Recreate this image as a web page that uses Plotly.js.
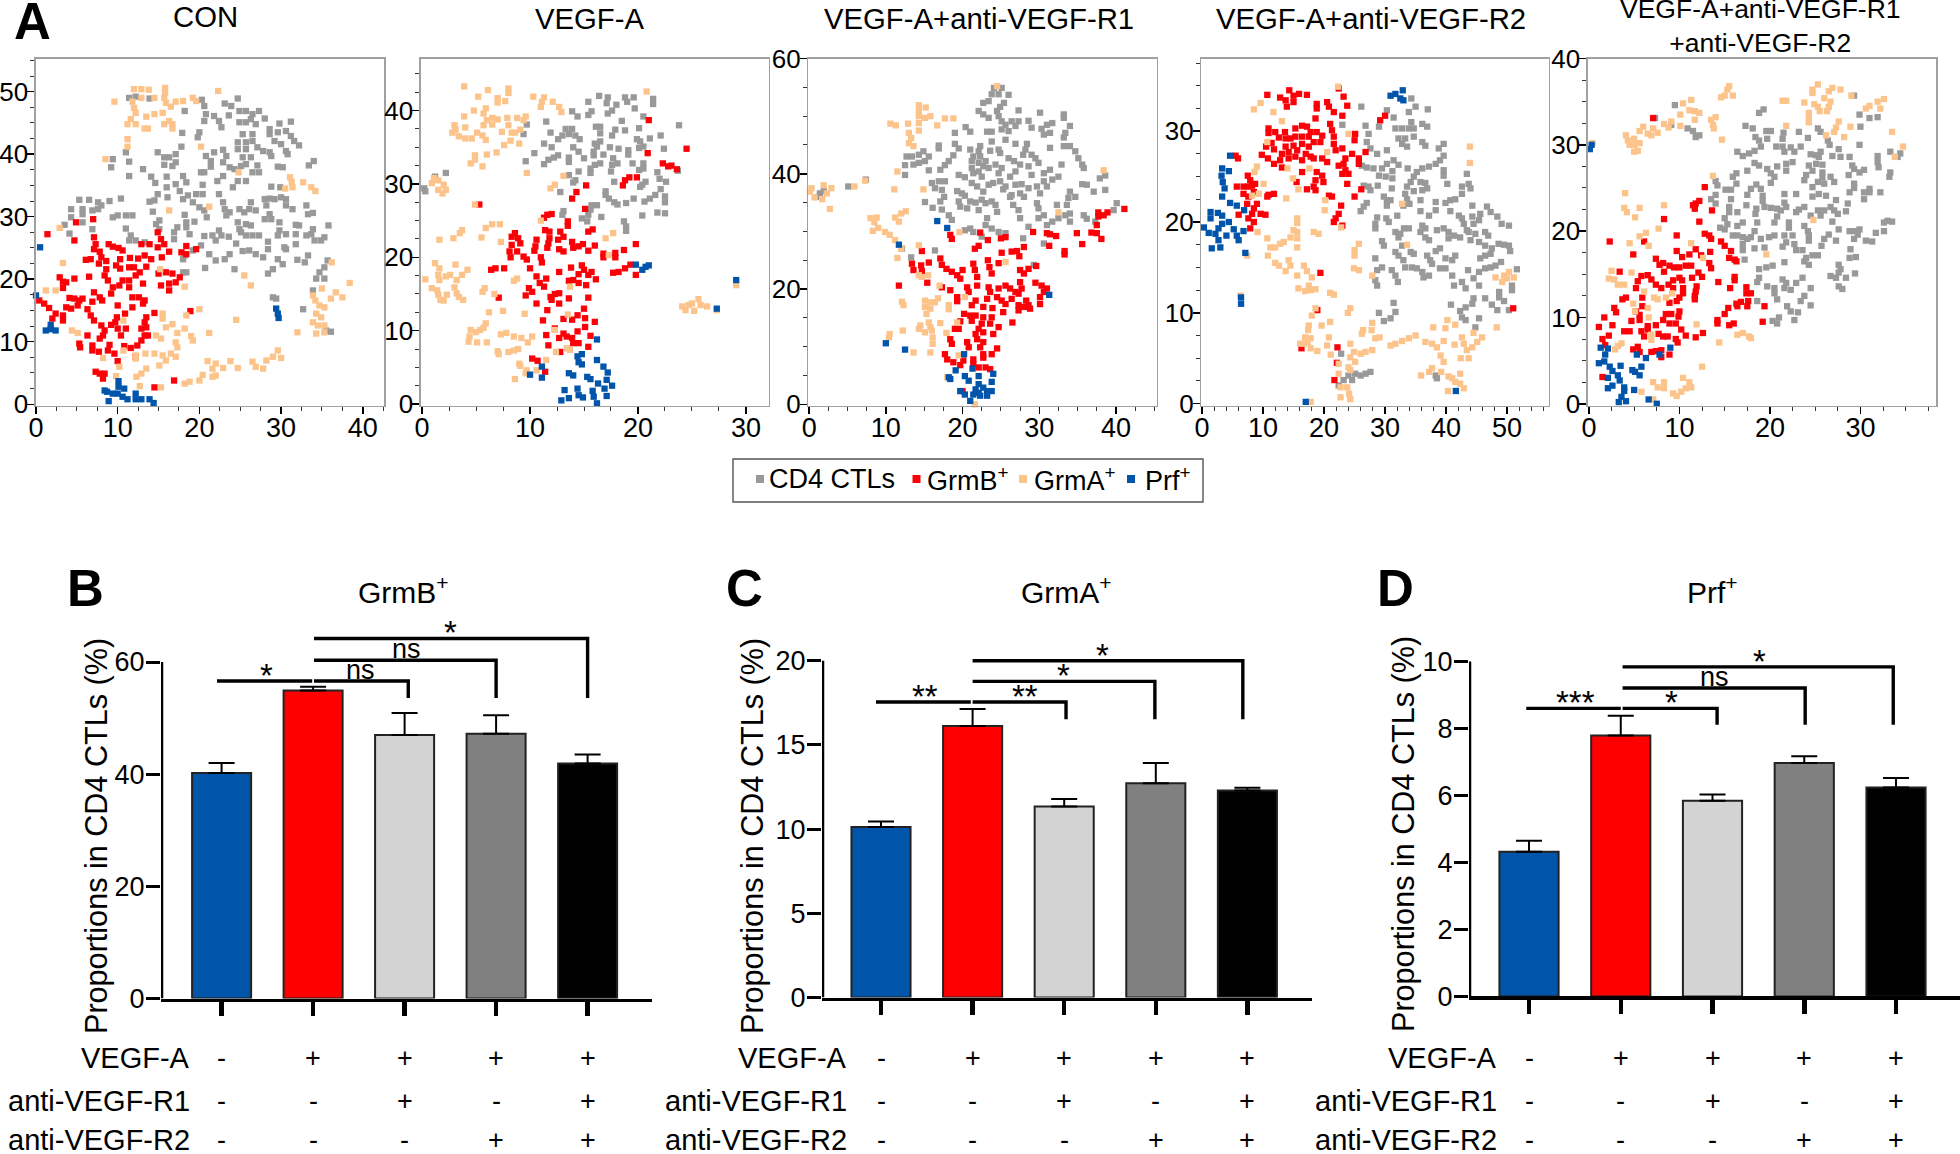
<!DOCTYPE html>
<html><head><meta charset="utf-8">
<script src="https://cdn.plot.ly/plotly-3.0.1.min.js"></script>
<style>html,body{margin:0;padding:0;background:#fff}#c{width:1960px;height:1154px}</style>
</head><body><div id="c"></div>
<script>
// ---------- t-SNE panels: flat x,y lists ----------
const conGrey=[11.4,49,12.2,49.2,13.9,48.9,20.3,48.7,20.6,47.7,18.2,46.9,24.7,48.9,23.1,48.1,23.9,47.7,24.9,46.9,25.7,46.9,26.5,46.4,27.3,46.9,20.8,46.4,20.6,45.3,21.8,46.1,22.4,45.3,22.7,44.3,23.6,46.2,24.9,45.1,25.7,45.1,26.3,45.6,26.9,44.8,28,45.7,29.8,44.9,31.2,45.2,28.6,44,28.6,43.2,29.6,43.5,30.6,43.7,31.2,42.9,31.6,42.1,32.2,41.4,29.2,42.1,30,41.6,30.6,40.5,30.8,40,20,43.5,19.8,42.7,17.9,43.4,25.3,43.2,26.5,43.2,26.5,42.1,24.7,41.9,25.7,41.9,24.7,40.8,25.7,40.8,27.1,41.1,27.8,40.5,28.6,40.3,28.8,39.7,17.8,41.2,17.1,40,16.3,39.5,15.7,39.5,14.9,40.3,11,40.3,9.4,39.2,9.2,37.9,11.4,38.8,13.1,37.6,11.4,36.5,14.1,36.4,14.6,35.4,16,36.4,16,34.7,16.7,38.1,17.1,38.7,15.7,38.3,20.8,39.7,21.4,38.9,21.8,40.3,22.9,40.7,23.3,39.7,22.9,38.7,21.4,38,20.6,37.1,20.2,37.1,23.7,37.9,24.3,37.6,25.3,39.5,26.3,39.5,25.7,38.4,25.1,38.1,27.1,38.2,27.3,37.1,26.5,37.1,25.7,35.7,24.7,35.7,24.1,34.7,22.9,36.5,22.2,35.7,20.4,35.1,29.6,38,30.2,37.9,33.4,38.2,34,38.9,28.8,34.8,29.9,34.7,18,36.5,18.4,35.5,17.1,35.2,17.6,34.1,16.1,33.1,14.9,33.6,14.5,32.6,13.9,32.4,14.3,30.8,18,32.8,18.6,33.4,19.6,33.6,20.4,33.6,19.2,32.3,20,31.5,20.6,31,22.4,33.6,22.9,32.3,23.1,31.2,23.7,30.7,23.3,30.2,18.2,30.3,17.3,28.3,18.4,29.1,19.4,29.2,20.9,29.9,15.1,29.4,14.7,28.8,15.1,28,11,28.1,11,30.2,11.8,30.2,10,30.2,9.4,29.9,10.4,32.9,9,32.5,5.3,32.7,6.5,32.7,7.6,32.3,8,31.8,7.6,31.2,6.9,31,5.7,31.2,5.7,30.4,4.3,31.2,4.3,29.9,3.5,28.7,5.7,29.1,4.1,27.3,6.9,28,11.6,27,12.2,26.2,11.4,26.2,13.3,25.9,16.9,27.5,16.9,26.4,18.4,28.3,18.8,27.2,20.6,26.9,21.6,27,22.4,27.8,22.7,27,22,26.2,23.6,26.8,20.2,25.4,19.2,24.6,18.2,23.8,18,23.2,21.2,24,22,23,23.1,23.2,23.7,24,24.5,25.7,25.3,24.5,26.1,24.6,26.9,24,27.8,23.5,28.4,26,28.4,24.8,30.4,25.1,29.6,23.2,30.6,24.8,31.8,25.6,32,23.1,32.9,22.7,33.3,23.8,30.2,22.4,29,21.6,28.4,20.9,24.3,21.6,20.7,21.8,18.4,21.1,18,21.1,24.7,29.1,24.9,28,25.7,28.8,26.3,28.6,25.1,27.5,25.7,27,26.5,27,27.3,27,24.9,31.2,25.5,30.7,26.3,32.3,26.1,31.2,26.9,31,28,32.8,28.6,32.9,29.2,32.8,28.2,31.8,28.6,30.4,28,29.6,28.8,29.6,29.8,29.1,30,33.1,30.6,32.8,30.6,31.8,31.4,31.2,33.1,31.8,33.3,30.4,33.9,30.6,31.8,28.7,32.2,28.6,29.8,27.8,29.6,27,30.6,27.2,31.8,27.2,33.1,27,33.9,28,33.7,27.2,34.1,26.2,34.9,26.2,35.3,26.7,35.8,28.6,35.7,23,35.3,21.9,34.7,21.1,34.3,20.1,35.3,20.1,33.9,18.2,29,17.1,29.4,16.9,32.7,15.2,36.1,11.6,35.5,11.8];
const conRed=[1.4,27.2,4.9,29.1,7,29.6,4.7,26.2,7.1,26.7,7.3,25.6,7.1,24.8,7.8,24.4,8,23.5,6.7,23.2,6.1,23.1,8.6,22.9,7.7,22.5,8.9,25.6,9.4,25.2,10.1,25,10.6,24.6,10.3,23.2,9.8,22.2,10.3,21.7,12,21.9,11.4,21.9,11.5,23.4,12.5,23.3,14.9,27.5,15.3,26.4,15.7,25.6,14.9,25.1,16.3,24.4,15.4,23.5,14.1,23.2,13.3,23.8,12.9,25.6,13.9,25.6,18.4,25.3,19.6,24.8,17.8,24.3,18.4,24,13.5,22,12.7,21.1,12.2,20.6,11.4,19.8,10.6,19.8,10.2,19,9.4,18.7,9.2,17.7,11.4,18.7,13.1,19.3,8.6,21.6,8.4,20.6,8.8,19.8,6.5,20.4,4.7,20.1,2.9,20.3,3.3,19.6,3.7,19.5,3.3,18.6,4.1,17,4.7,16.9,5.3,16.6,5.7,16.9,5.1,15.8,3.7,15.5,4.3,15.3,7.1,17.9,7.8,17.1,6.9,16.4,8.1,16.6,6.3,15.2,6.7,14.2,7.1,13.4,10,15.8,11.8,17.1,12.6,17.1,13.3,16.6,11.8,15.5,13.1,16.1,14.5,14.6,13.5,13.9,13.3,13.1,13.5,12.3,12.9,12.1,13.3,11,12.9,10.2,13.7,11,12.4,9.4,11.6,9,10.8,9.3,11,12.1,10.9,14.5,9.9,13.9,9.7,13.1,9.2,12.7,10,12.1,10.4,11,8,12.6,8.4,11.8,8.2,11,7.8,10.5,6.3,11,6.9,9.4,6.9,8.6,7.7,8.4,5.3,9.7,5.4,9.1,9,9.5,8.8,8.6,9.6,8.1,10,6.9,7.3,5.2,7.8,4.9,8.4,4.9,8.2,4.1,14.5,2.7,16.9,3.8,12.2,7.6,18.9,14.9,0.4,16.6,1,16.1,1.6,15.4,2.4,14.5,2,13.7,3.3,14.2,3.3,13.4,15,20.9,15.9,21.1,16.7,20.9,17.6,20.3,17.1,19.5,16.3,19.3,15.3,19,16.3,18.2];
const conTan=[12,50.4,12.9,50.4,13.8,50.3,15.8,50.6,15.8,49.8,15.7,49,15.9,48.2,16.5,47.6,17.1,48.4,18,48.5,19.2,49,19.6,48.5,22.3,50.1,9.6,48.4,12.9,49,14.5,49,11.8,48.4,12,47.4,12.2,46.6,13.5,46,14.5,46.4,15.5,46.6,11.6,45.6,11.2,44.8,12.2,44.8,13.3,44.1,13.7,44.1,15.7,44.8,16.3,45.3,16.7,44.8,16.7,44.1,11.2,42.4,11.2,41.2,8.5,39.2,20.2,41.2,24.8,37.1,31.1,36.3,31.3,35.6,30.5,34.5,31.4,34.7,32.7,35.5,33.7,34.7,34.2,34.1,16.3,31,21.2,31.6,3.3,22.6,2.9,28.2,1.2,18.2,2.4,18.2,36.2,22.7,25.5,20.6,26.3,19,18.2,18.8,15.2,21.6,38.4,19.4,35,18.5,33.9,17.4,34.2,16.6,34.7,15.8,35.3,15.5,36.1,16.9,36.7,17.9,37.5,17.1,34.3,14.5,34.9,13.9,33.9,13.1,34.5,12.6,34.3,11.3,35.3,12.6,35.3,11.5,32,11.5,24.5,13.5,18.4,14.2,20,15.2,15.5,14.5,15.5,13.7,21.2,11.4,16.7,12.8,15.9,12.3,18.2,12.1,17.3,11.4,19,10.9,19.2,10.2,14.7,11,15.3,10.5,17.1,9.9,17.3,9.1,16.5,8.1,17.1,7.6,15.9,7,15.5,7.8,14.5,8.1,13.4,8.1,12.2,7.8,12.2,7.3,10.7,13.4,4.4,11.8,5.1,11.4,10.7,8.6,8.2,7.4,10.2,6,9.8,4.5,13.5,5.7,12.9,4.9,12.3,4.4,15.1,6.2,12.7,2.9,15.3,2.7,18.2,3.3,18.8,3.6,20,3.8,20.4,4.7,21.6,4.4,22,4.6,21,6.9,22,6.5,21.6,5.7,22.9,5.8,23.8,6.9,24.7,5.8,26.5,6.8,26.9,6,27.8,5.7,28.2,7,29,7.6,29.6,8.6,30,7.4];
const conBlue=[0.5,25.1,0,17.4,1.8,12.7,1.2,11.8,1.8,12,2.4,11.8,29.4,15.3,29.6,14.5,29.7,13.8,8.4,2.2,8.7,2,8.9,0.5,10.1,3.7,10.1,2.8,10.8,2.5,10,1.7,10.6,1.2,11.2,0.8,12.2,1.7,12.2,0.8,12.9,0.8,13.9,0.8,14.4,0.2,9.4,1.7];

const vegfGrey=[15.4,41.2,16.4,42,17.2,41.8,17.1,41,18.8,41.8,19.6,41.8,19,41.2,18,40.8,17.6,40,21.4,41.6,21.4,40.9,19.7,40.3,13.9,39.9,14.4,39.2,15.4,39.4,15.7,39.9,17.2,39.6,18.5,38.6,20.5,39.2,11.5,38.5,9.7,38.1,9.4,36.8,16.1,37.8,16.5,37.8,16.5,36.9,17.9,37.4,17.6,36.6,18.8,37.3,20.1,37.6,13.3,37.5,13.9,37.5,11.9,37,13,36.6,12.6,36.1,13.6,36.8,14.2,36.6,14.6,36.1,22.1,36.6,19.9,36.1,20.2,35.8,21.1,36.2,11.3,35.5,12,35,14,35,14.5,34.4,15,33.5,16,35.5,16.5,35.8,16.2,35.1,15.9,34.4,15.9,33.9,16.8,34,17.4,35,18.2,34.8,19.1,34.6,19.1,34,20.1,34.9,20.5,35.1,22.4,34.8,10.4,34.2,12.6,33.9,12.2,33.6,11.7,33.3,11.3,32.7,9.6,33.1,13.6,33.6,13.6,33,17.7,33.5,17.6,32.6,18.1,32.8,16.5,32.8,16,32.6,15.6,32.1,15.6,31.5,14.5,31.7,14.2,30.5,14,30.2,13.6,31.2,19.5,32.8,20.5,32.8,20.5,32.1,20.1,31.9,17.5,31.7,17.8,30.3,23.8,38,21.8,31.6,22,30.7,22.6,30.3,20.7,30.3,20.4,29.9,20.2,29.6,22.1,29.3,17,29,17,28.5,17.3,28,17.8,27.5,18.1,27.2,18.9,27.4,19.6,28,20.6,27.6,21.1,28,21.6,28.5,22.5,28.3,22.5,27.5,21.8,26.1,22.5,26,20.4,25.7,23.7,31.8,12.8,28.9,0.2,29.4,0.3,29,1.2,31,2.2,31.5,13.1,26.3,13,25.8,15.7,27.1,16.2,27.1,15.6,26.5,15.4,25.8,14.8,25.3,15.3,24.9,16.6,25.5,18.7,24.9,18.9,24.2,18.9,23.6];
const vegfRed=[21,38.7,24.5,34.8,20.9,34.2,22.3,32.8,22.8,32.4,23.1,32.5,23.6,32,18.6,29.8,18.8,30.5,19.2,30.9,19.9,30.9,15.2,29.8,14.3,28.9,13.9,28,15.1,26.6,5.3,27.2,11.3,25.4,11.6,25.8,12,25.9,13.5,24.9,13.5,24.3,15.4,23.5,15.8,23.8,11.4,23.7,11.8,23.5,11.8,22.6,11.7,21.9,11.6,21.3,10.6,22.4,10.5,21.5,10.4,20.9,8.6,23.3,8.3,22.8,8.9,22.6,8.3,21.7,9.1,21.9,8.1,20.8,8.8,20.8,8.2,20,9.4,20.1,9.7,19.7,11,20,11.1,19.3,12.8,23.5,13.1,22.8,12.6,22.4,13.9,22.1,14,21.3,14.5,21.5,14.9,21.8,16,21.6,15.4,20.9,12.7,21.1,13.1,20.8,19.8,21.8,18.7,21,17.9,20.6,17.9,20,16.8,20.5,16.8,20,6.8,18.5,6.4,18.3,7.6,18.5,10,18.5,12.7,18,13.8,18.6,14.8,18.9,15,18.3,15.7,18,15.4,17.6,10.6,17.4,11.5,17.1,10.9,16.5,11.3,16,9.9,15.8,10.2,15.3,9.6,14.8,14.5,17.7,14,16.9,14.5,16.5,13.6,16.8,15.2,16.2,16.1,17,17.7,17.9,18.2,18,18.8,18.5,19.3,19,19.8,17.6,12.3,15,12.7,15.1,11.9,14.6,12.7,13.7,12,14.2,10.6,13.7,11.6,12.8,13.6,14.4,15.4,14.5,7.1,14.5,15,13,11.2,11.4,13.1,11.6,13.9,11.5,14.4,12.1,15.1,11.7,16,11.2,15.1,10.5,12.3,10.3,13.1,9.6,13.4,9.2,13.9,9,14.4,9.9,15.6,9.3,11.5,9.4,12.7,9,11.7,8,14,8.3,14.5,8.3,15.4,7.8,12.8,7.1,10.2,6.2,10.7,5.9,11.4,4.4];
const vegfTan=[3.9,43.3,6.1,42.8,5.2,41.9,8,43,8,42.4,7,41.7,7,41.1,7.7,41.3,5.9,40.3,5.7,39.6,4.8,40,3.9,39.2,10.3,41.9,11.3,41.8,11.1,41.2,11,40.5,12.1,41.2,12.7,40.5,12.9,39.8,4,37.7,3,38,3.1,37.4,2.8,37,3.4,36.5,4,36.2,4.6,36.2,5.1,37,5.6,36.6,5.9,36,5.7,38,6,38.7,6.5,39,7,38.8,6.5,38.1,7.9,39,8.8,39,9.6,39.2,9.4,38.7,8,38,7.4,37.1,8.3,37,8.6,37,9.1,37.4,8.2,35.9,7.6,35.3,9,35.5,6.9,34.3,6,34,4.9,33.9,4.9,33.3,4.5,32.8,5.6,32.4,9.7,31.5,13.1,31.1,12.3,29.9,11.9,29.4,1.1,30.8,1.5,30.5,0.9,30.1,2,29.9,2.2,29.2,1.9,28.7,1.5,29.2,4.9,27.2,11,25,6.5,24.5,7.2,24.5,5.9,24,3.7,23.7,3.5,23.3,2.9,22.6,1.6,22.4,5.5,22.7,7.3,22.1,17.7,23.3,17,22.6,17.3,20.3,1.2,19.2,1.6,18.5,1.5,17.6,1.6,16.9,0.3,17,2.2,17.4,2.6,17.6,3.1,19,4.2,18.3,3.7,17.6,3.2,16.9,3,15.9,0.9,15.8,1.4,15.5,1.5,14.9,1.7,14.2,2.3,14.9,2,14.1,3.2,15.1,3.4,14.6,3.8,14.2,8.8,17.1,8.5,16.8,5.8,15.8,5.6,15.3,6.7,15,6.2,12.5,7.5,12.7,9.5,12.3,5.9,11,5.7,10.4,5.4,10.1,4.5,10.1,5,9.8,4.4,9.2,4.3,8.5,5.1,8.4,6,8.4,7.3,9.5,7.8,9.7,8.5,9.2,9.2,9,10.2,9.2,9.8,8.4,7,7.2,7.1,6.8,8,7.1,8.5,7.3,8.9,7.5,9,5.5,9.1,5.2,9.7,4.6,9.6,4.2,8.6,3.4,10.6,4.6,11.5,6,12.3,10.1,12.4,7.1,13.4,7.6,13.7,7.4,13.7,16,13.5,12.2,25.6,14.3,24.1,13.3,24.7,13.5,25,13.7,25.2,12.7,25.8,13.5,26.4,13.3,24.4,12.8,29.1,16.2,27.3,12.8,20.8,42.6];
const vegfBlue=[16.2,8.8,19.8,19,20.4,18.3,20.7,18.7,21,18.9,29.1,16.9,27.3,13,14.8,6.8,14.4,6.5,14.5,5.7,14.8,5.4,16.2,6,16.8,5.1,17.2,4.3,17.1,3.3,17.6,2.5,16.9,2.1,16.3,2.8,15.3,3.7,15.6,3.4,13.6,4.2,14,3.9,13.2,1.9,14.4,2.1,14.5,1.2,13.6,0.8,12.9,0.5,15.8,1.8,15.9,1,16.2,0.1,17.1,1.1,11.1,5.1,11.1,3.6,10,4,14.9,0.9];

const r1Grey=[24.1,54.9,25.1,54.9,23.8,53.8,24.7,53.8,26,53.7,22.7,52.3,23.4,52.6,25.4,52.3,24.9,51.6,27.3,51,30.1,50.6,33.2,50.3,33.2,49.7,22.1,50.9,22.7,50.3,24.5,50.9,24.7,50,25.1,49.1,23.4,49.7,25.6,48.5,26.4,49.1,27.3,49.1,26.9,48.3,28.6,49.2,25.1,47.7,26,47.4,29,48,30.3,47.8,31,48.5,31.7,48.8,30.6,46.8,31.4,47.1,34,48.3,33.4,47.1,33.2,46.3,20.4,48.1,21,47.3,19,47.1,23.2,47.3,23.8,47.3,23.8,45.6,25.6,45.9,26.9,45.2,19,45.2,19.5,44.4,16.9,44.9,16.9,44.4,21,44.2,22.3,44.8,22.1,43.9,23.6,44,24.7,44.2,24.9,43.6,28.4,45.2,28.2,44.2,31.4,44.5,33.2,44.8,34,44.8,34.7,43.9,35.1,42.7,35.6,41.6,35.8,41,12.7,43,13.4,43,14.3,43.3,14.9,43.9,15.6,43,15.1,42.2,14.3,41.9,13.6,41.6,12.5,41.5,12.5,39.8,15.6,40.6,17.1,40.7,17.7,41.5,18.2,42.2,18.8,43.2,21.4,43,21.2,42.2,21.2,41,21.4,40.1,22.3,43,22.1,41.9,23,42.2,22.7,41.3,23.4,41,22.1,40.4,24.3,41.6,25.1,41,24.7,40.1,26,42.7,26.7,42.2,27.9,43.3,29,43.3,29.5,42.7,29.9,41.9,27.5,41.6,28.6,41.3,30.6,40.1,31.4,40.7,32.9,41.6,29,39.8,26.9,40.4,26.2,39.5,19.5,39.8,20.3,39.4,22.5,39.5,21.2,38.4,21.9,37.8,23.4,38.1,22.7,36.9,24,38.4,24.9,38.7,25.6,37.8,25.3,37.3,26.9,38.1,27.7,38.2,26.4,36.3,27.5,36.6,28,36,28.6,37.5,29.7,37.8,30.6,38.7,31.7,39,32.5,39.5,31,37.8,30.1,36.6,34,36.9,34.7,36,35.6,38.2,36.2,38.1,37.1,36.9,38.6,37.2,37.9,39.2,38.6,39.7,40.1,34.9,39.7,33.7,33.8,35.8,33.6,34.6,16,38.4,16.9,38.7,17.7,38.7,16.4,37.5,17.3,37.2,17.6,36,17.1,35.2,15.1,35.1,16.1,34.1,17.3,33.8,19.3,37,19.9,36.6,20.3,36.2,21,35.2,21.7,35,22.5,35.5,23,34.9,23.8,35.2,24.3,34.6,24.5,33.4,19.5,35.2,19.7,34.3,20.6,34,22.1,33.7,18.2,32.8,18.6,32,23.2,32.3,23,31.1,23.8,30.5,26.2,36,26.6,34.6,27.3,33.7,27.5,32.3,29.7,34.9,29.9,34,30.6,32.8,29.9,32.3,32.3,34.6,32.5,32.3,31.7,31.7,31,31.1,34,31.7,33.4,32.8,34,33.1,35.8,32.8,36.2,32.2,37.3,31.7,20.3,30.2,21,30.5,21.4,29.9,24.7,29.9,25.6,29.7,28.6,30.8,27.9,28.8,30.6,27.9,16.4,26.7,13.3,25.5,12.1,27,29.3,24.2,1.4,36.6,1.9,37,1.2,36,5.1,37.8,7.4,39,22.5,29.1];
const r1Red=[18.4,29.4,18.6,28.7,22.3,29.8,22.1,27.5,21.6,27,23.3,28.5,25,28.8,25.6,29,29.2,29.9,31,29.7,31.4,29.5,32.2,29.2,31.3,27.5,33.3,26.6,33.3,26,34.9,29.7,35.6,27.8,36.8,29.8,37.5,29.7,37.5,31.1,38.1,28.7,37.7,33.3,37.7,32.6,38.4,32.8,38.9,33.3,41.1,33.9,14.7,26.6,14.6,24.1,15.6,24.6,13.4,24.4,13.6,23.3,14.7,23.1,15.4,21.1,11.7,20.6,17.1,25.3,17.3,24.2,17.9,23.5,18.6,23,19.3,22.4,20,23.3,19.7,21.8,21.4,24.4,21.6,23.3,21.9,22.1,23.3,25,23.5,23.8,23.8,22.7,24.7,24.5,25.1,26.3,26.4,26.5,27.1,26.6,27.4,25.7,28,27.3,20.6,20.3,21.9,20.6,20.8,19.5,18.4,19.8,17.3,20.3,19.3,18.6,19.3,17.9,23.4,20.3,23.6,19.5,23.2,18.3,24.7,20.1,25.6,20.6,26.2,20.1,26.9,19.5,27.7,20.1,27.5,21.2,28,22.7,28.6,23.5,29.6,24,27.5,23.3,29.5,21.1,30.3,20.6,31,20.1,30.6,19.5,30.1,18.6,30.1,17.4,24.5,18.6,25.1,18,25.6,17.4,26.4,18.3,27.3,19.2,27.3,17.2,28,16.9,28.6,17.2,28.8,16.6,28.3,18,27.3,16.3,25.3,16,26.5,14.2,21.7,18,21.2,17.2,22.7,16.9,23.9,16.7,20.2,15.7,21,15.4,21.7,15.4,22.7,15.1,23.8,15.1,21.2,14.5,22.5,14,23.6,14,24.7,13.4,19.7,14.4,19,13.1,19.5,13.1,22.1,13.1,21.7,12.2,22.7,12.5,24,12.2,20.6,10.8,21.9,11.3,22.7,10.8,20.8,9.9,22.3,9.9,18.4,11.3,18.6,10.5,24.5,9.7,22.7,8.7,23.8,8.7,22.7,8.1,17.7,8.7,18,7.8,18.8,7.3,19.7,6.8,20.1,7.6,21.4,7.8,21.4,7,22.1,6.4,23,6.4,23.6,6.1,20,2.3];
const r1Tan=[24.5,55.2,14.3,51.9,14.3,50.9,15.2,51.5,14.3,50,15.1,49.7,14.3,48.8,15.8,50,17.7,49.6,18.8,49.6,16.7,48.4,10.6,48.7,11.3,48.4,12.9,48.7,14.3,47.5,13,47.1,13.3,46.2,13,45.3,13.6,44.8,11.5,40.4,11.1,37.3,14.9,37.3,38.4,40.6,5.9,37.8,7.3,38.8,0.3,37.5,0.1,36.9,1.9,38,2.9,37.5,2.3,36.6,0.7,35.9,1.7,35.6,2.7,33.9,8,32.3,8.8,32.4,8.5,31.6,9,30.6,8.3,30.1,11.2,32.4,12,33.1,12.6,33.5,11.7,31.7,9.9,29.9,10.5,29.4,11.2,28.5,12,27,11.5,25.4,14.3,27.6,32.5,33.3,19.6,29.9,25.6,24.7,14.3,22.4,14.7,22.1,15.5,22.4,17,20.6,20.3,18.6,12.1,17.8,12.3,17.2,15.1,18,15.8,17.7,16.8,18.4,16.4,17.7,15.1,16.9,15.8,16.6,15.3,15.7,18.2,17.2,18.2,16.5,17.1,14.1,19.3,14.2,15.6,14.2,15.8,13.4,14.5,13.7,14.3,13.1,15.1,12.5,16,12.8,16.1,11.6,16.1,10.5,15.8,9,12.2,12.8,10.5,12.2,10.4,11.6,13.6,9,17.9,12.4,19.5,8.5,18,4.7,21.6,0];
const r1Blue=[16.7,31.8,18,30.6,11.7,27.7,31.3,19,10,10.6,12.5,9.5,20.2,8.7,19.1,5.9,21.3,6.2,20.3,4.9,20.8,4.1,22.1,4.9,24,5.3,23.8,3.9,18.4,4.4,18.2,4.7,22.1,3.5,22.7,2.9,21.7,2.6,22.3,1.5,23.2,1.5,23.8,2.3,19.7,2.3,20.3,1.7,21,0.6,23.2,2.3,22.1,2,21.4,1.7];

const r2Grey=[34.3,33.6,35,32.7,37,32.4,33.9,32.1,26.1,32.7,30.3,32.3,31.4,31.5,34.3,31,36.1,30.8,36.9,30.5,26.8,30.6,29,30.5,31.7,30.3,32.8,30.3,33.9,30.3,34.7,30.3,27.3,29.7,27,28.8,23,30.7,32.2,29.2,33.3,29.2,34.7,29.4,32.8,28.6,36.1,28.8,36.6,28.4,39.6,28.6,38.8,28.1,33.6,28.3,30.3,27.9,28.7,27.5,27.6,28.1,39.6,27.3,39,26.8,38.3,26.4,26.2,26.2,27,26,28.1,25.9,31.4,26.8,32.2,26.3,30.3,26.4,29.5,25.9,29,25.1,30.1,25,31.2,25.6,31.2,24.8,33.7,25.9,37.2,26.1,36.1,25.9,35.2,25.5,34.7,25,34.2,24.4,33.6,23.9,39.6,25.7,39.6,25.1,40.2,24.2,43.4,25.3,43.7,24.2,44,23.7,35.8,24.4,36.6,24.3,36.9,23.7,36.1,23.5,34.7,23.4,33.3,23.1,33.6,22.5,42.6,23.9,42.6,23.1,41.5,22.5,40.7,22.4,39.9,22.1,38.3,22.2,35.8,22.4,31.1,23.7,28.8,24,27.3,23.9,26.5,24,27.6,23.5,29.8,22.8,30.3,22.4,30.9,22.4,30.3,21.8,27,22.1,26.5,21.7,26,21.2,33,21.8,34,22,35.8,21.2,38.3,21.3,37.2,20.7,40.7,21.2,42.1,20.7,44.3,21.8,46.7,21.7,47.3,21.1,48.4,20.6,45.6,20.9,45.4,20.2,44.3,20.6,44.5,19.8,42.6,20.4,42.9,19.8,43.4,19.1,49.1,19.8,50.3,19.6,28.7,20.5,28.4,19.8,28.4,19.3,30.2,20.4,30.6,20,32,20.7,31.7,18.9,32.5,18.7,33.1,19.3,33.9,19.3,32.2,18.3,36.1,19.6,36.6,19.3,35.8,18.9,36.6,18.3,37.2,18,38.5,19.1,39.6,19.3,40.4,18.9,41.3,18.5,40.4,18.2,42.3,18.3,43.7,18.9,44.8,18.7,46.4,18.9,46.9,18.5,44,18,45.4,17.8,46.4,17.4,47.5,17.1,47.3,16.5,48.6,17.6,49.5,17.5,50.3,17.4,50.5,16.8,45.6,16,46.4,16.3,29.5,17.9,29.8,17.4,32.8,17.4,34.2,16.7,34.7,16.5,31.7,16.7,32.2,16.3,33,15.8,33.3,15,34.4,15,35.2,14.9,36.1,14.5,36.3,13.9,37.2,14.1,36.9,16.3,37.4,15.8,37.7,15.4,38.3,16.8,39,17.1,39.9,16,39,14.9,39.9,14.9,41,15.8,41.5,16.3,28.4,16,29.5,15,28.7,14.7,28.4,13.6,28.7,13,31.1,14.7,31.7,14.1,32.1,13.4,41,14.1,41.3,13,42.6,13.4,43.2,12.7,43.6,14.7,44.5,13.8,45.4,14.5,46.4,14.9,47.3,15,48.1,15.2,49,15.6,51.6,14.8,50.8,13,50.8,12.5,45.4,13,48.7,12.3,48.7,11.7,49.5,11.3,47.5,10.9,46.4,11.6,44.5,11.6,44.3,11,48.4,10.3,50.3,10.3,40.8,10.9,43.2,10.6,42.3,10.2,42.6,9.5,45.4,9.4,43.2,9.2,31.4,11.1,31.7,10.1,29,10,30.9,9.4,29.8,9.1,44.8,8.4,38.5,2.8,38.3,3.1,22.8,5.5,24,3.1,25.1,3.3,26,3.1,26.8,3.3,27.6,3.5,23.2,2.6,22.4,2,24.6,2.6];
const r2Red=[10.7,34,14.3,34.5,12.8,33.7,13.7,33.4,15,33.9,15.9,34.1,17.2,34,13.9,32.7,15,33.2,18.8,33,18.8,32.5,18.6,31.4,20.5,33.2,20.8,32.7,21.6,32.1,23,31.7,23.2,33.8,23.8,32.8,22.4,34.7,29.2,31.2,30,31.7,5.5,27.3,5.9,27,10.9,30.3,10.9,29.8,12,29.9,13.6,29.9,12.6,29.3,11.4,28.7,10.5,28.3,11.8,28,9.8,27.4,10.8,27,11.8,26.4,13.1,26,15.3,30.3,16.4,30.6,17.2,30.5,17.8,29.9,18.8,29.9,19.7,29.5,15.3,29.4,16.4,29.4,17.5,29.4,14.5,29.2,13.7,29.2,18.3,28.8,19.4,28.8,15,28.4,16.4,28.6,17.5,28.3,13.7,28.3,13.1,27.5,14.2,27.7,15.6,27.9,17,27.5,17.8,27.2,14.2,27,15.3,27.2,16.4,26.8,12.8,26.8,18.3,27,21,30.8,21.3,30.1,21.6,29.4,21.6,28.6,21.9,27.9,25.1,29.7,25,29,23,28.1,24.6,27.5,23.5,27,23.2,26.4,22.4,26.2,19.7,27,20.5,26.6,25.7,27,26.8,27.7,25.7,26.4,23.5,25.7,23,25.3,24,25.3,23.8,24.2,16.4,25.5,18.8,25.5,19.7,25.1,18.6,24.6,19.9,24.4,18.3,23.9,17.2,23.6,18.6,23.5,15.5,24.4,20.8,22.9,21.3,22.8,25,22.8,26.1,23.6,22.8,21.8,22.4,20.9,21.9,20.4,21.6,20,23,19.6,19.4,14.4,18.9,10.3,22.2,6.2,22.1,4.5,21.7,2.6,16.3,6.1,51,10.5,7.5,25.1,7.9,24.6,7.6,23.9,5.7,23.9,6.8,23.9,8.2,24,8.7,24.2,6.8,23.1,7.6,22.8,8.5,23.3,7.4,22,9,22,8.5,21.5,9.6,20.9,10.4,20.8,6,20.8,8.2,20.9,7.6,20.4,8.5,20,7.9,19.3,10.9,23,11.8,23.1,10.7,22.8];
const r2Tan=[22.3,34.9,9.6,33.1,8.5,32.4,11.7,32.1,13.1,31.1,10.7,28.8,24,29.7,20.5,27.7,14,25.9,9,26.1,8.6,25.5,10.1,24.2,17.6,25.9,14.9,24.8,15.8,23.6,9.3,23.1,8.2,22.9,13.8,22.6,20.2,22.4,20.1,21.3,15.6,20.4,15.6,19.9,22.8,19.4,9.1,18.9,10.7,18.2,11.2,17.2,12,17.2,12.8,17.6,13.4,17.8,15,19.1,15.6,18.9,14.5,18.3,15.6,18.2,15.6,17.2,18.3,18.9,19.1,18.7,7.4,16.3,10.8,16.3,12,15.5,12.6,15.2,14.2,15.8,14.5,15.2,13.7,14.6,16.7,15.2,17.2,14.6,15.6,14.1,18,13.9,15.8,12.7,17.5,13,17.8,12.5,16.9,12.4,18.6,12.6,21,12.2,21.6,12,6.3,11.9,25.7,17.6,25,16.9,25,16.3,24.9,14.9,25.7,14.7,27.9,14.1,33.6,17.5,32.8,22,43.9,28.3,43.9,26.5,18.6,10.5,18,9.7,24.3,10.5,23.9,10,21,9,19.6,8.6,17.5,8.6,17.4,8.1,16.9,7.3,17.8,7.2,16.7,6.6,17.8,6.1,18.9,5.8,20.8,7.3,20.5,6.4,21.1,5.4,24.3,6.6,26.2,7.7,26.4,8.1,27.9,8.9,27.8,8.1,28.4,7.2,29.1,7.3,27.9,5.9,26.8,5.7,26,5.5,24.9,5.7,24.3,5.1,25.1,4.6,22.4,3.3,22.4,4.4,24,4,24.3,3.7,22.7,1.8,22.7,0.7,23.8,1.8,24.1,1.1,24.3,0.5,30.9,6.4,31.7,6.6,32.8,6.9,33.9,7.2,35,7.5,36.6,6.8,37.7,6.6,38.5,6.2,39.6,6.9,41.4,6.5,42.6,7.3,42.9,6.6,43.4,5.9,43.7,5,42.4,5,44.5,7.8,45.9,7.3,45.1,6.8,44.3,6.2,48.3,8.4,41.5,8.7,40.2,9.2,39.9,8.3,37.9,8.4,39.1,5.3,39.6,4.6,39.2,3.5,37.7,3.9,37.2,3.5,35.9,3.1,40.4,3,41,2.8,41.5,2.4,42.3,3.3,42.3,2.2,42.9,1.7,40.3,1.4,49.5,14.1,50.3,14.5,51.1,13.9,48.1,13.9,50,13.8,49.2,13.4,17.8,0.2,17.3,6.8,16.1,6.6];
const r2Blue=[4.6,27.3,3.3,25.9,4.4,25.6,3.2,25.1,3.4,24.4,3.7,23.7,3.3,22.8,4.6,22.1,5.7,21.8,6.9,21.3,1.4,21.1,2.6,21,3.3,20.7,1.4,20.4,4.4,20,3.3,19.8,2.7,19.3,0.3,19.4,1.1,18.8,2.2,18.7,5.2,19.2,6.8,19,5.7,18.5,6,18,4,18.5,2.7,18,1.6,17.1,3,17.2,7.1,16.6,6.4,11.7,6.4,11,17,0.2,41.6,1.4,30.9,33.9,31.7,34.1,32.9,34.5,32.5,33.6,33,33.4];

const bothGrey=[9.5,34.6,7.3,33.1,9.1,32.3,10.9,31.9,11.5,31.6,11.8,30.9,12.2,31.1,18.8,33.7,19.3,34.1,29.3,35.7,29.9,33.5,31,33.1,31.9,33.2,30,32.1,17.3,32.2,18.1,31.9,19.6,31.6,20.1,31.6,21.5,31.4,23.2,31.5,25.3,31.9,25.6,31.5,18.4,30.9,18.8,30.5,19.7,30.7,21.4,30.7,24.2,30.8,26.4,30.5,26.6,30,29.9,30,27.6,29.5,19,29.8,20.7,29.8,21.4,29.8,22.3,29.7,23.4,29.8,21.6,29.2,22.7,29.2,16.4,29.2,17,28.7,17.7,29,18.3,29.3,24.5,28.9,25.1,28.8,25.6,29.2,25.4,28.6,26.9,28.7,27.8,28.6,28.8,28.6,31.9,28.7,31.9,28,32,27.4,33.3,29.2,34.4,29,34.1,28.6,18.3,27.9,18.8,27.6,19.7,27.2,20.8,27.5,21.8,27.8,22.5,28,24.3,27.6,25.1,27.8,24.7,27,25.8,27.7,29.1,27.6,29.3,27.2,29.9,26.8,30.4,27.1,28.7,26.5,20.1,26.7,20.5,26.3,21.8,27,25.8,26.8,26.7,26.3,27.1,25.7,24,26.5,23.8,25.9,25.8,26.2,25.3,25.7,26,25.5,33.3,26.8,33.2,26.3,17.5,27,16.3,26.7,15.9,26.3,14,25.8,14.2,25.3,16.3,25.5,15.7,24.8,15.1,24.8,20.1,25.6,18.5,25.4,17.9,24.9,17.5,24.2,19,24.9,19.2,24.1,19.2,23.5,24.7,25.1,29.3,25.5,29.3,25,28.8,24.5,31,24.9,30.4,24.5,31,24.5,30.4,23.7,32.2,24.5,21.6,24.3,22.9,24.3,24.7,24,25.4,24.3,26.2,24.1,14,24.2,13.5,23.7,14,23.2,15.7,23.7,28.6,23.2,27.3,23.6,15.5,22.8,15.5,22.2,16.4,22.2,17.4,23,18.5,22.6,18.4,22,19.4,22.8,20.1,22.7,20.8,22.6,21.6,23.3,21.8,22.8,21.2,22.4,20.8,21.7,20.5,21,23.8,22.8,23.2,22.5,22.9,22.2,24.5,21.8,25.3,22.4,25.6,21.8,26,22.4,26.7,22.8,27.1,22.4,27.5,22,28.4,22.3,26.9,21.1,15,21.5,14.5,20.4,15,20.2,15.3,20.8,17,21,18.6,21,16.4,20.6,22.1,21,22.1,20.4,18.3,20,23.8,20.6,24.2,20,24.3,19.5,24.3,18.9,15.9,19.5,16.4,19.5,17,19.3,17.5,19.1,17.9,19.3,19,19.1,19.9,19.3,20.5,19.5,21.6,19.5,22.5,19.5,21.8,18.7,22.7,18.5,21.4,18.2,25.7,18.3,26,19.1,26.5,19.6,27.3,18.9,27.6,20.2,28.8,20,29.3,20,29.9,20.2,29.7,19.6,29.3,19.1,30.6,18.9,31.3,18.8,31.7,19.8,32.6,20,32.6,21,33,21.2,33.5,21.1,17,18.5,17,17.8,18.3,18,19.4,18.1,22.9,17.8,23.6,17.8,17.2,16.7,21.6,16.4,24,16.9,24.7,17.2,25.3,17.2,24.3,16.1,23.8,16.5,28.9,17.9,28.8,16.9,29.5,17,27.6,16.1,27.8,15.6,27.6,15.2,20.3,16,19.6,15.8,18.8,15.6,18.8,14.6,18.6,14.1,19.7,13.6,20.5,13.4,20.5,12.8,21.4,14.4,21.8,14,21.6,13.4,22.3,13.2,22.9,14,23.6,14.6,24.5,13.4,26.7,14.8,27.3,14.6,28.4,14.6,29.4,15.1,27.6,13.6,28,13.3,23.8,12.5,23.4,11.9,24.5,11.4,18.6,11.9,20.8,12.1,21.9,11.3,22.3,10.7,23.1,10.6,22.7,9.7,21,10,20.3,9.6,20.8,9.3];
const bothRed=[7.1,33.1,12.8,25.1,11.5,23,11.8,23.2,12.2,23.5,11.7,22.6,13.6,22.4,8.3,21.4,12.2,21.1,9.7,19.5,12.8,19.7,13.3,19.5,13.5,19.1,2.3,18.8,6.1,18.8,14.6,18.8,15,18.3,15.7,17.7,15.5,16.9,16.1,16.7,16.3,16.5,4.9,17.3,9.7,17.7,11.8,17.9,13.4,17.6,10.3,17,11.1,17.3,12.4,17.2,7.4,16.8,7.8,16.1,8.2,16.3,8.9,16,9.4,15.8,10,15.8,10.7,16,11.3,16,13.3,16.3,13.5,15.7,3.4,15.3,8.3,15.3,5.8,14.8,6.5,14.9,5.4,14.2,5.2,13.4,6.9,14.4,7.4,13.8,8,13.4,8.8,13.8,9.3,14.3,10,14.6,10.3,14.3,11.4,14.6,12.1,15.2,12.5,14.7,9.3,13.4,10.4,13.4,11.9,13.6,11.8,13,11.7,12.5,11.7,12.1,10.4,12.8,10,12.3,9.7,11.9,8.9,11.7,14.3,14.1,16.1,14.7,16.1,14.3,15.6,13.4,17.4,13.5,17.4,12.8,17.9,12.8,5.9,12.3,5.9,11.3,4.1,12.3,3.7,12.1,2.8,11.1,3,10.6,5.2,10.7,1.7,10,5.6,10.3,5.6,9.7,4.7,9.6,1.1,8.9,2.6,9.1,8.2,9.7,8.5,10.4,9.1,10.4,10,10.7,9.9,10.1,8.9,9.3,9.6,9.3,10.2,8.6,6.5,9,7.4,9.1,6.5,8.6,3.9,8.4,4.5,8.4,5.8,8.4,6.1,7.8,7.7,8.1,8.2,7.8,8.7,7.8,9.6,7.5,9.8,7.1,10.7,7.9,11.8,7.7,12.6,8.2,2.2,7.9,1.5,7.5,1.8,6.8,4.9,6.3,5.4,6.6,5.6,6,6.9,6,7.4,6.1,8,6.2,8,5.4,8.9,5.7,14.2,9.7,14.2,9.3,15.5,9.1,16,9.3,15,10.4,15.4,11.1,16.3,11.6,16.8,11.8,17.5,11.3,16.4,11.3,17.6,11.9,19.4,11.3,19.2,9.5,1.5,3.1];
const bothTan=[15.5,36.8,15.3,36.4,15,35.7,15.9,35.7,14.6,35.5,25.3,37,24.7,36.4,24.7,36,26.9,36.6,26.5,36.2,27.8,36.4,29,35.7,21.8,35.1,21.4,35.1,23.8,34.9,24.9,34.7,26,35.4,26.7,35,26.5,34.4,25.3,34.4,25.5,33.9,24.3,33.7,24.3,33.1,24.3,32.6,26.3,33.9,30.6,34.2,31,34.5,31.9,35,32.6,35.3,32.2,34.2,11.3,35.2,10.4,34.8,11.1,34,11.7,33.9,12.2,33.7,11.7,32.9,10.1,33.5,10.1,32.2,9.1,32.7,8.3,32.4,8.8,32,6,32.1,5.6,31.6,7.1,31.9,6.5,31.3,6.9,31.1,7.6,31.4,4.1,31.1,4.3,30.5,4.5,30,5,30.7,5.6,30.2,5,30,5,29.2,5.4,29.3,13.5,32.9,14,33.2,13.7,32.3,13.8,31.9,14.7,30.6,21.8,32.2,27.6,32.7,27.3,32,27.1,31.5,28.9,32.1,26.2,31.1,28.2,30.9,33.5,31.5,34.7,29.8,33.8,28.6,0.4,30.2,13.7,26.4,4,24.4,3.9,22.7,4.2,22.2,5.6,22.7,5.1,21.6,8.3,23,7.7,20.3,6.3,19.8,5.6,19.4,4.5,18.6,6.6,18.3,11.3,18.6,12.6,16.9,19.6,17.3,2.5,15.4,2.2,14.5,2.8,14.4,3.2,13.8,3.9,13.8,4.7,15.2,6.1,13,7.2,12.3,7.6,12.1,8.5,12.3,9.2,12.8,4.9,11.6,6.5,11.1,5.1,10.7,6.6,10,24.8,21.3,11.9,9.2,6.9,8,6.9,7.4,16.4,8,17,8.2,17.7,7.8,17.9,7.6,14.4,7.1,3.6,7,3.2,6.7,2.9,6.3,12.5,4.3,10.4,3,11.1,2.5,11.3,1.9,10.7,1.8,10.2,1.4,9.7,0.9,9.3,1.2,7.1,2.5,7.6,1.9,8.3,2.5,8.3,1.8,5.8,1.4,7.1,0.5];
const bothBlue=[1.3,6.5,2.1,6.4,1.8,5.7,1.1,4.7,1.7,4.9,2.3,4.3,2.6,3.8,3.5,4.4,3.2,3.3,3.4,2.7,2.1,3,2.1,1.8,2.6,2.1,3.9,1.9,3.9,1.5,5,1.6,3.6,0.8,3.3,0.2,4.1,0.3,6.6,0.5,7.5,0,4.8,3.9,5.1,3.7,5.6,3.3,5.8,4.3,6.3,5.3,5.3,5.7,7.8,5.7,9,6.5,0.3,30,0.1,29.5];

// ---------- bar panels ----------
const groups=[0,1,2,3,4];
const vegfA=['-','+','+','+','+'];
const antiR1=['-','-','+','-','+'];
const antiR2=['-','-','-','+','+'];
const grmBMean=[40.2,54.9,47,47.2,41.9];
const grmBErr=[1.8,0.7,3.9,3.3,1.6];
const grmAMean=[10.12,16.13,11.34,12.73,12.3];
const grmAErr=[0.34,1.01,0.45,1.2,0.16];
const prfMean=[4.32,7.79,5.84,6.97,6.24];
const prfErr=[0.33,0.59,0.19,0.2,0.28];
const barColors=['#0055ab','#ff0000','#d3d3d3','#808080','#000000'];

const W=1960,H=1154;
const FONT='"Liberation Sans", Arial, sans-serif';
const px=x=>x/W, py=y=>1-y/H;
const xsOf=a=>a.filter((_,i)=>i%2===0), ysOf=a=>a.filter((_,i)=>i%2===1);
const colors={grey:'#999999',red:'#fb0007',tan:'#fcc48b',blue:'#0055ab'};

const panels=[
 {t:'CON',tx:205,ty:17,f:[36,384],r:[0,42.6],yr:[-0.2,55.3],xm:2.5,ym:2.5,yd:10,d:[conGrey,conRed,conTan,conBlue]},
 {t:'VEGF-A',tx:590,ty:19,f:[421,768.6],r:[-0.1,32.1],yr:[-0.2,47.1],xm:2.5,ym:2.5,yd:10,d:[vegfGrey,vegfRed,vegfTan,vegfBlue]},
 {t:'VEGF-A+anti-VEGF-R1',tx:979,ty:19,f:[808.4,1156.6],r:[-0.1,45.3],yr:[-0.2,60],xm:2.5,ym:5,yd:20,d:[r1Grey,r1Red,r1Tan,r1Blue]},
 {t:'VEGF-A+anti-VEGF-R2',tx:1371,ty:19,f:[1201.4,1548.6],r:[-0.1,56.8],yr:[-0.2,38],xm:2,ym:2.5,yd:10,d:[r2Grey,r2Red,r2Tan,r2Blue]},
 {t:'VEGF-A+anti-VEGF-R1<br>+anti-VEGF-R2',tx:1760,ty:26,f:[1588,1936],r:[-0.1,38.35],yr:[-0.2,40],xm:2.5,ym:2.5,yd:10,fs:26.5,d:[bothGrey,bothRed,bothTan,bothBlue]}
];
const traces=[],annos=[],shapes=[],layout={};
const names=['CD4 CTLs','GrmB+','GrmA+','Prf+'],cols=[colors.grey,colors.red,colors.tan,colors.blue];
const txt=(text,x,y,size,extra)=>annos.push(Object.assign({text,x:px(x),y:py(y),xref:'paper',yref:'paper',showarrow:false,xanchor:'center',yanchor:'middle',font:{family:FONT,size,color:'#000'}},extra||{}));

panels.forEach((p,i)=>{
  const n=i+1,k=n===1?'':n;
  p.d.forEach((a,j)=>traces.push({type:'scatter',mode:'markers',name:names[j],showlegend:false,hoverinfo:'skip',cliponaxis:false,
     x:xsOf(a),y:ysOf(a),xaxis:'x'+k,yaxis:'y'+k,marker:{symbol:'square',size:6.3,color:cols[j],line:{width:0}}}));
  const common={showgrid:false,zeroline:false,showline:true,mirror:true,linecolor:'#a0a0a0',linewidth:1.6,ticks:'outside',tickcolor:'#000',tickwidth:1.5,ticklen:7,tick0:0,
     tickfont:{family:FONT,size:27,color:'#000'},fixedrange:true};
  layout['xaxis'+k]=Object.assign({},common,{domain:[px(p.f[0]),px(p.f[1])],range:p.r,dtick:10,anchor:'y'+k,ticklabelstandoff:-10,
     minor:{dtick:p.xm,tick0:0,ticks:'outside',ticklen:4,tickcolor:'#333',tickwidth:1}});
  layout['yaxis'+k]=Object.assign({},common,{domain:[py(405.5),py(58.5)],range:p.yr,dtick:p.yd,anchor:'x'+k,ticklabelstandoff:-6,
     tickfont:{family:FONT,size:26,color:'#000'},
     minor:{dtick:p.ym,tick0:0,ticks:'outside',ticklen:4,tickcolor:'#333',tickwidth:1}});
  txt(p.t,p.tx,p.ty,p.fs||29.3);
});

const bars=[
 {title:'GrmB<sup>+</sup>',tx:403,ty:590,letter:'B',lx:85.5,yc:836,yx:96,mean:grmBMean,err:grmBErr,left:161,cat0:221.6,step:91.5,right:652,top:662,bot:998.6,ymax:60,ticks:[0,20,40,60],lab:192,
  br:[[[-0.05,0.99],[56.6,56.6]],[[1.01,2.04,2.04],[56.6,56.6,53.6]],[[1.01,3,3],[60.3,60.3,53.6]],[[1.01,4,4],[64.2,64.2,53.6]]],
  sig:[['*',0.49,56.6],['ns',1.52,56.6],['ns',2.02,60.3],['*',2.5,64.2]]},
 {title:'GrmA<sup>+</sup>',tx:1066,ty:590,letter:'C',lx:744,yc:836,yx:752,mean:grmAMean,err:grmAErr,left:822,cat0:881,step:91.6,right:1311.5,top:660.8,bot:997.5,ymax:20,ticks:[0,5,10,15,20],lab:849,
  br:[[[-0.055,0.98],[17.55,17.55]],[[1,2.02,2.02],[17.55,17.55,16.53]],[[1,2.99,2.99],[18.78,18.78,16.53]],[[1,3.95,3.95],[20,20,16.53]]],
  sig:[['**',0.48,17.55],['**',1.57,17.55],['*',1.99,18.78],['*',2.42,20]]},
 {title:'Prf<sup>+</sup>',tx:1712,ty:590,letter:'D',lx:1395,yc:834,yx:1403,mean:prfMean,err:prfErr,left:1469,cat0:1529,step:91.75,right:1960,top:661.5,bot:996.4,ymax:10,ticks:[0,2,4,6,8,10],lab:1499,
  br:[[[-0.03,1],[8.6,8.6]],[[1.02,2.05,2.05],[8.6,8.6,8.11]],[[1.02,3.01,3.01],[9.21,9.21,8.11]],[[1.02,3.97,3.97],[9.84,9.84,8.11]]],
  sig:[['***',0.51,8.6],['*',1.55,8.6],['ns',2.02,9.21],['*',2.51,9.84]]}
];
const headroom=1.15;
bars.forEach((b,i)=>{
  const k=i+6,xa='x'+k,ya='y'+k;
  const xr=[(b.left-b.cat0)/b.step,(b.right-b.cat0)/b.step];
  traces.push({type:'bar',x:groups,y:b.mean,width:0.645,xaxis:xa,yaxis:ya,showlegend:false,hoverinfo:'skip',
    marker:{color:barColors,line:{color:'#222',width:2}},
    error_y:{type:'data',symmetric:false,array:b.err,arrayminus:[0,0,0,0,0],color:'#000',thickness:2,width:13}});
  b.br.forEach(s=>traces.push({type:'scatter',mode:'lines',x:s[0],y:s[1],xaxis:xa,yaxis:ya,showlegend:false,hoverinfo:'skip',cliponaxis:false,line:{color:'#000',width:3.4}}));
  // y-axis spine stops at the top tick while the range keeps room for the brackets
  traces.push({type:'scatter',mode:'lines',x:[xr[0],xr[0]],y:[0,b.ymax],xaxis:xa,yaxis:ya,showlegend:false,hoverinfo:'skip',cliponaxis:false,line:{color:'#000',width:4.5}});
  layout['xaxis'+k]={domain:[px(b.left),px(b.right)],range:xr,anchor:ya,showgrid:false,zeroline:false,showline:true,linecolor:'#000',linewidth:3.5,
    ticks:'outside',tickvals:groups,ticklen:14,tickwidth:4.5,tickcolor:'#000',showticklabels:false,fixedrange:true};
  layout['yaxis'+k]={domain:[py(b.bot),py(b.bot-(b.bot-b.top)*headroom)],range:[0,b.ymax*headroom],anchor:xa,showgrid:false,zeroline:false,showline:false,
    ticks:'outside',tickvals:b.ticks,ticklen:14,tickwidth:3,tickcolor:'#000',ticklabelstandoff:-4,tickfont:{family:FONT,size:27,color:'#000'},fixedrange:true};
  txt('Proportions in CD4 CTLs (%)',b.yx,b.yc,30.6,{textangle:-90});
  txt(b.title,b.tx,b.ty,30);
  txt(b.letter,b.lx,588,51,{font:{family:FONT,size:51,color:'#000',weight:700}});
  b.sig.forEach(s=>annos.push({text:s[0],x:s[1],y:s[2],xref:xa,yref:ya,showarrow:false,xanchor:'center',yanchor:'bottom',yshift:s[0]==='ns'?-6:-15,font:{family:FONT,size:s[0]==='ns'?27:33,color:'#000'}}));
  [['VEGF-A',vegfA,1058],['anti-VEGF-R1',antiR1,1101],['anti-VEGF-R2',antiR2,1140]].forEach(r=>{
    txt(r[0],b.lab,r[2],29,{xanchor:'right'});
    r[1].forEach((s,j)=>annos.push({text:s,x:groups[j],y:py(r[2]),xref:xa,yref:'paper',showarrow:false,xanchor:'center',yanchor:'middle',font:{family:FONT,size:27,color:'#000'}}));
  });
});
txt('A',32,22,51,{font:{family:FONT,size:51,color:'#000',weight:700}});

// legend box
shapes.push({type:'rect',xref:'paper',yref:'paper',x0:px(733),x1:px(1203),y0:py(502),y1:py(459),line:{color:'#555',width:1.4},fillcolor:'rgba(0,0,0,0)'});
[[760,cols[0],767,'CD4 CTLs'],[916.5,cols[1],925,'GrmB<sup>+</sup>'],[1023,cols[2],1032,'GrmA<sup>+</sup>'],[1131,cols[3],1143,'Prf<sup>+</sup>']].forEach(l=>{
  shapes.push({type:'rect',xref:'paper',yref:'paper',x0:px(l[0]-4),x1:px(l[0]+4),y0:py(483),y1:py(475),line:{width:0},fillcolor:l[1]});
  txt(l[3],l[2],479,27,{xanchor:'left'});
});

Object.assign(layout,{width:W,height:H,margin:{l:0,r:0,t:0,b:0},paper_bgcolor:'#fff',plot_bgcolor:'#fff',showlegend:false,barmode:'overlay',annotations:annos,shapes,font:{family:FONT}});
Plotly.newPlot('c',traces,layout,{displayModeBar:false,staticPlot:true});
</script></body></html>
